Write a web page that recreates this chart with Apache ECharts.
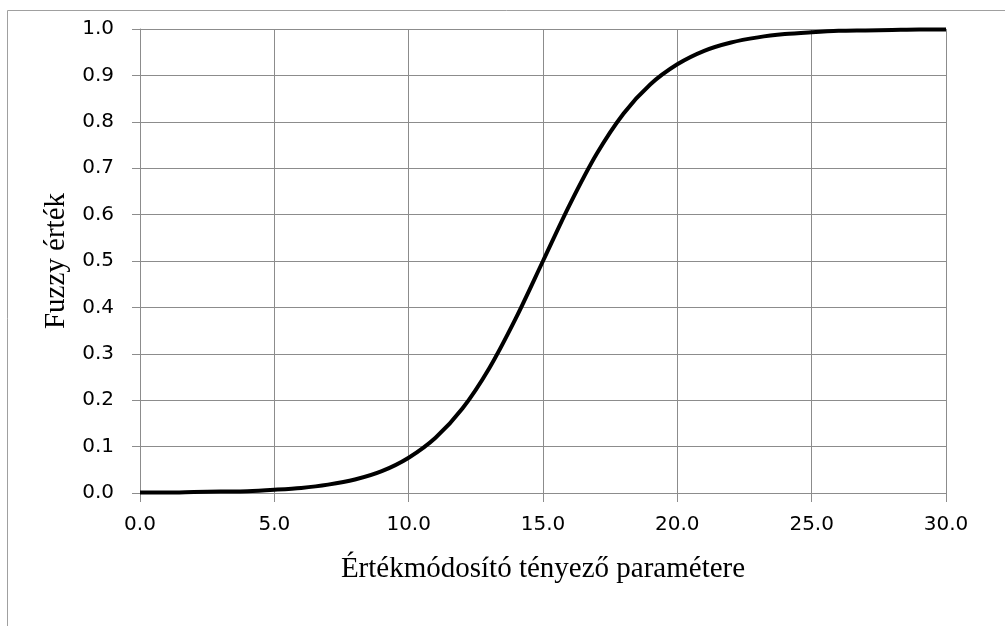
<!DOCTYPE html>
<html>
<head>
<meta charset="utf-8">
<script src="https://cdn.jsdelivr.net/npm/echarts@6/dist/echarts.min.js"></script>
<style>
  html, body { margin: 0; padding: 0; background: #fff; }
  #chart { width: 1005px; height: 626px; }
</style>
</head>
<body>
<div id="chart"></div>
<script>
  // értékek, egységnyi lépésközzel
  var xValues = [0, 1, 2, 3, 4, 5, 6, 7, 8, 9, 10, 11, 12, 13, 14, 15,
                 16, 17, 18, 19, 20, 21, 22, 23, 24, 25, 26, 27, 28, 29, 30];
  var fuzzyValues = [0.001, 0.001, 0.002, 0.003, 0.004, 0.007, 0.011, 0.018, 0.029, 0.047, 0.076,
                     0.119, 0.182, 0.269, 0.378, 0.500, 0.622, 0.731, 0.818, 0.881, 0.924,
                     0.953, 0.971, 0.982, 0.989, 0.993, 0.996, 0.997, 0.998, 0.999, 0.999];
  var xName = 'Értékmódosító tényező paramétere';
  var yName = 'Fuzzy érték';

  var gridColor = '#8c8c8c';
  var labelFont = 'DejaVu Sans';
  var nameFont = 'Liberation Serif';

  var points = xValues.map(function (x, i) { return [x, fuzzyValues[i]]; });

  var myChart = echarts.init(document.getElementById('chart'));

  var option = {
    animation: false,
    graphic: [{
      type: 'rect',
      shape: { x: 7.5, y: 10.5, width: 1200, height: 800 },
      style: { fill: 'none', stroke: '#a0a0a0', lineWidth: 1 },
      silent: true
    }],
    grid: { left: 140, right: 59, top: 29, bottom: 133 },
    xAxis: {
      type: 'value',
      min: 0, max: 30, interval: 5,
      name: xName,
      nameLocation: 'middle',
      nameGap: 62,
      nameTextStyle: { fontFamily: nameFont, fontSize: 29, color: '#000' },
      axisLine: { show: true, lineStyle: { color: gridColor, width: 1 } },
      axisTick: { show: true, inside: false, length: 9, lineStyle: { color: gridColor } },
      axisLabel: {
        margin: 22, color: '#000', fontFamily: labelFont, fontSize: 20,
        formatter: function (v) { return v.toFixed(1); }
      },
      splitLine: { show: true, lineStyle: { color: gridColor, width: 1 } }
    },
    yAxis: {
      type: 'value',
      min: 0, max: 1, interval: 0.1,
      name: yName,
      nameLocation: 'middle',
      nameGap: 69,
      nameTextStyle: { fontFamily: nameFont, fontSize: 29, color: '#000' },
      axisLine: { show: true, lineStyle: { color: gridColor, width: 1 } },
      axisTick: { show: true, inside: false, length: 8, lineStyle: { color: gridColor } },
      axisLabel: {
        margin: 26, color: '#000', fontFamily: labelFont, fontSize: 20,
        formatter: function (v) { return v.toFixed(1); }
      },
      splitLine: { show: true, lineStyle: { color: gridColor, width: 1 } }
    },
    series: [{
      type: 'line',
      data: points,
      smooth: 0.3,
      symbol: 'none',
      lineStyle: { color: '#000', width: 4 }
    }]
  };

  myChart.setOption(option);
</script>
</body>
</html>
